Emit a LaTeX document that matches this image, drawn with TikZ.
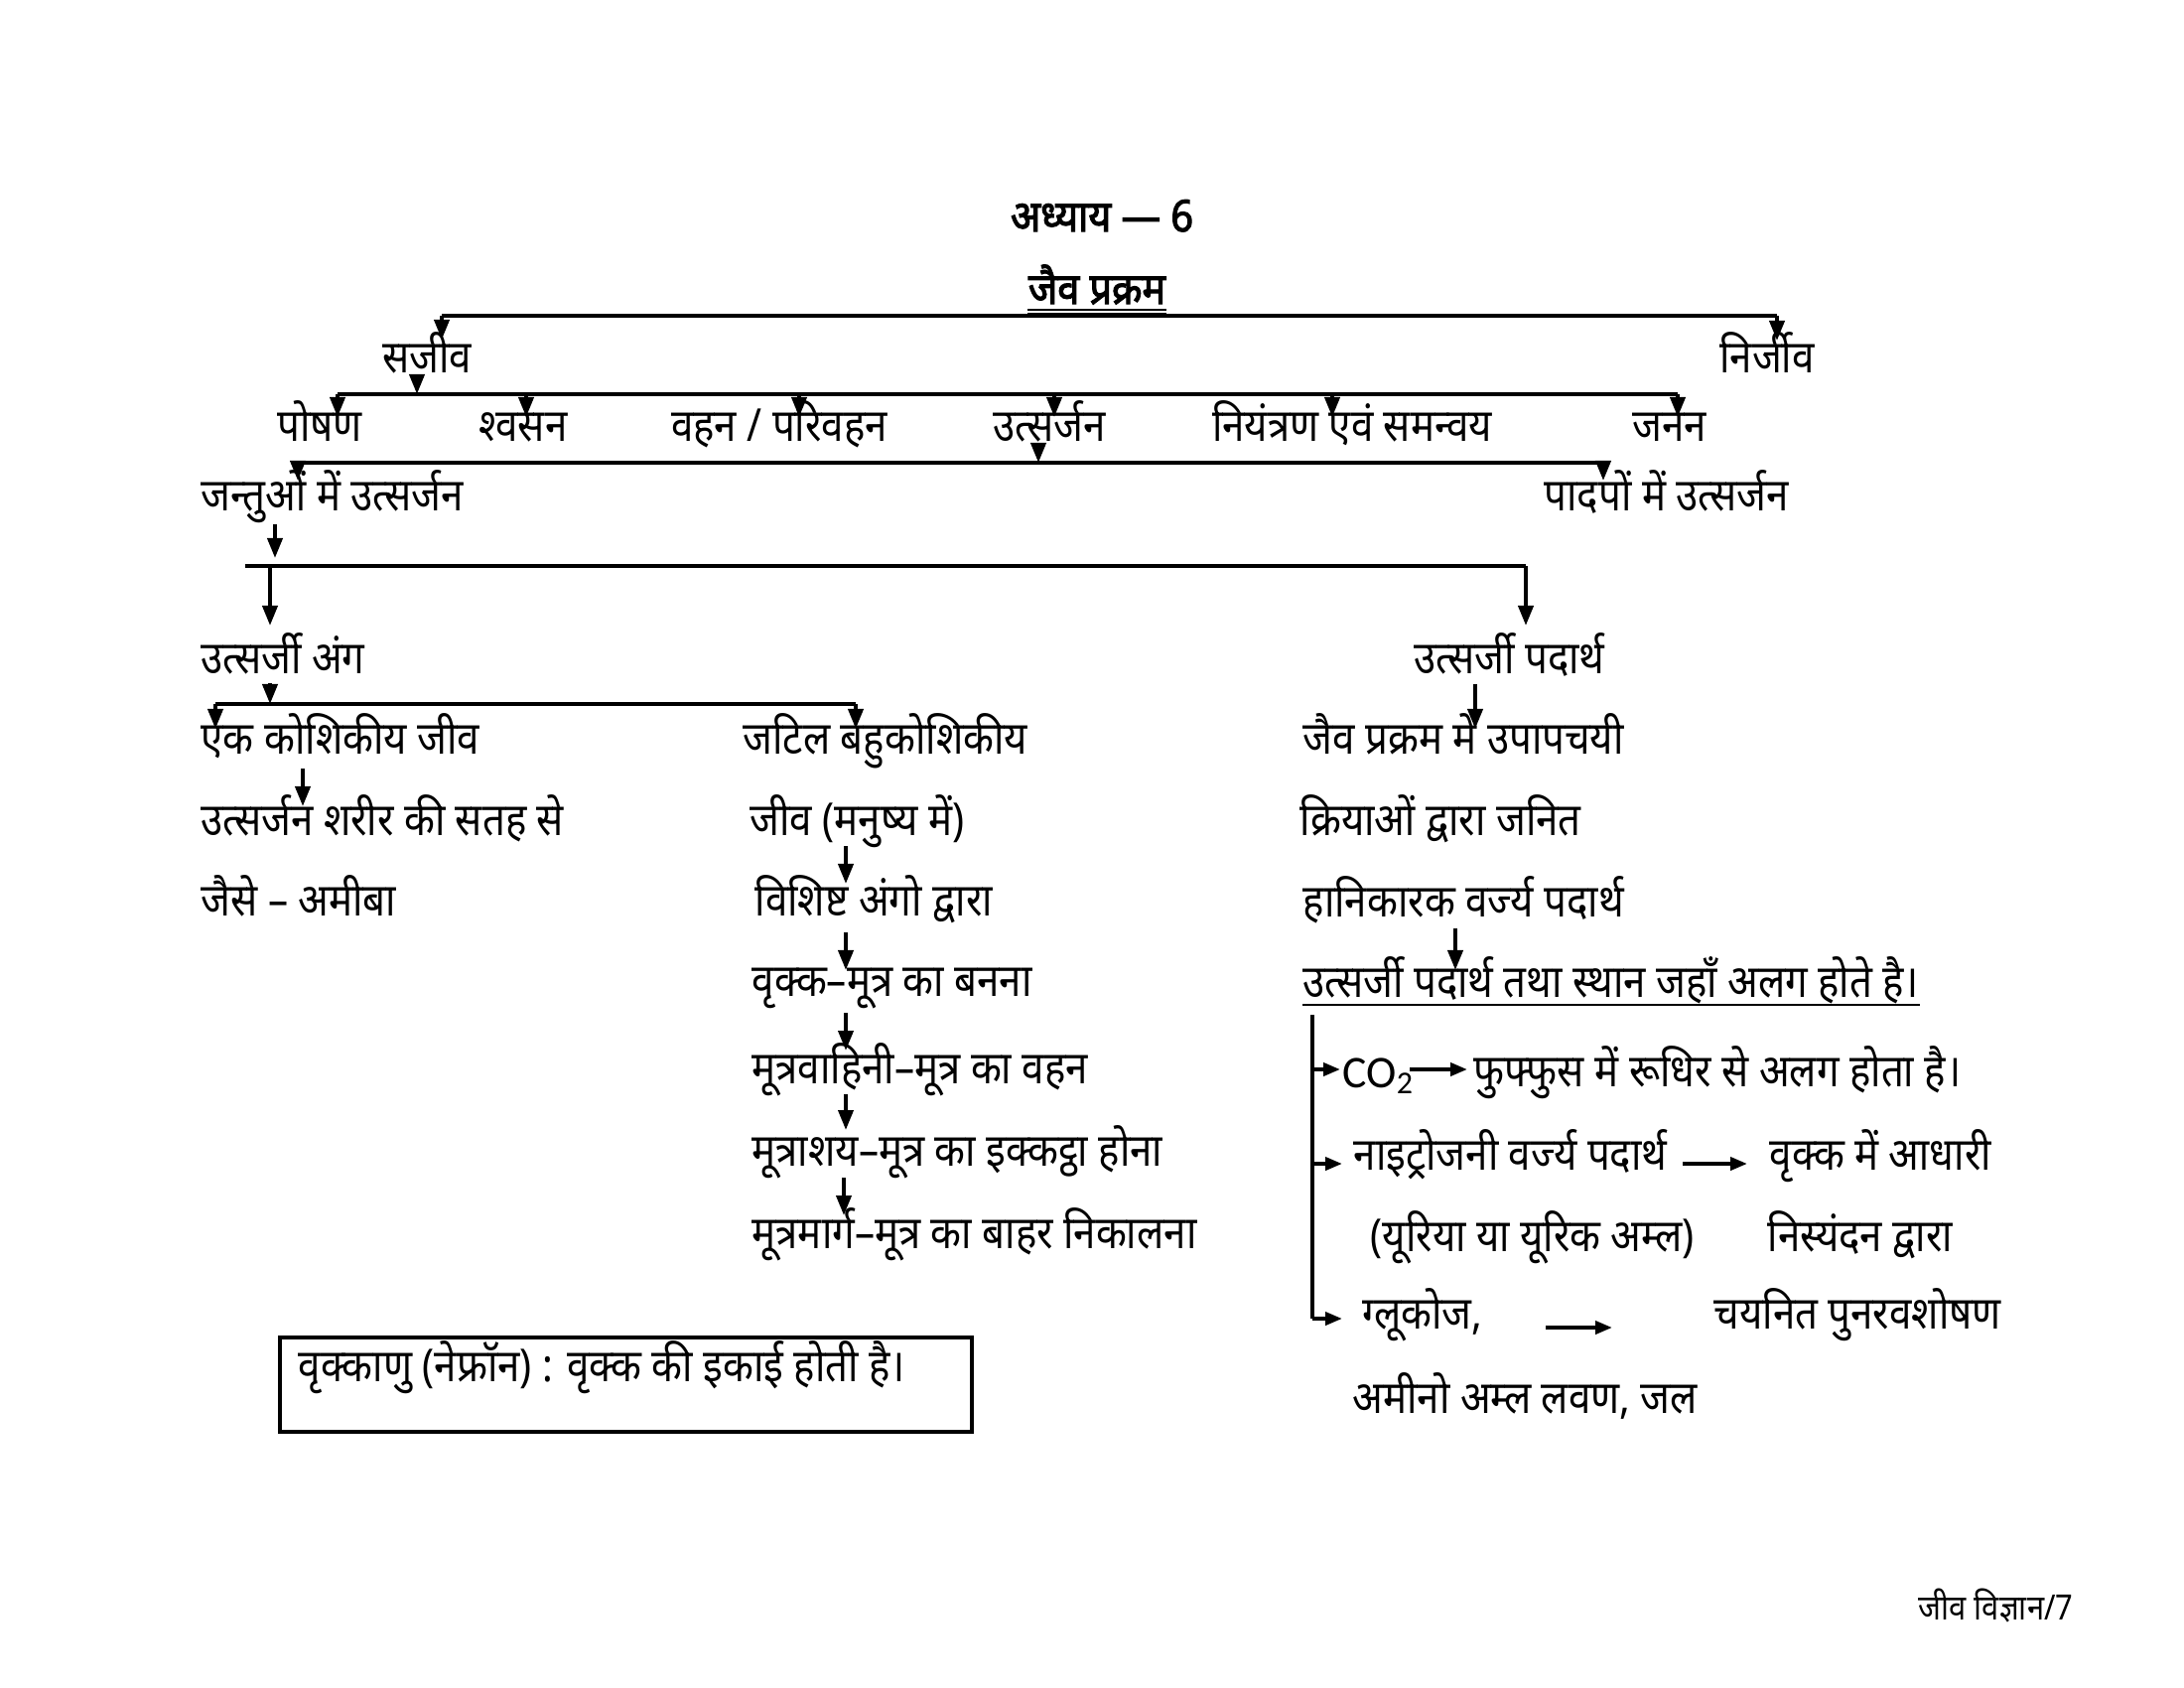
\documentclass[tikz,border=0pt]{standalone}
\usepackage{fontspec}
\setmainfont[Script=Devanagari, FakeStretch=0.88]{Noto Sans}
\newfontfamily\boldhin[Script=Devanagari, FakeBold=2.5, FakeStretch=0.9]{Noto Sans}
\newfontfamily\latinsans{Carlito}
\usetikzlibrary{arrows.meta,calc}
\newcommand{\fs}{\fontsize{13}{15}\selectfont}
\newcommand{\fsfoot}{\fontsize{10}{12}\selectfont}
\tikzset{
  txt/.style={anchor=base west, inner sep=0pt, font=\fs},
  ctxt/.style={anchor=base, inner sep=0pt, font=\fs},
  ttl/.style={anchor=base, inner sep=0pt, font=\fontsize{12.5}{15}\boldhin},
  arr/.style={-{Triangle[length=0.2cm,width=0.15cm]}, line width=1.1pt},
  sarr/.style={-{Triangle[length=0.17cm,width=0.13cm]}, line width=1.1pt},
  bar/.style={line width=1.1pt},
  uline/.style={line width=0.6pt},
}
\begin{document}
\begin{tikzpicture}[x=0.01cm,y=-0.01cm]
\useasboundingbox[fill=white] (0,0) rectangle (2200,1700);

% titles
\node[ttl] (title) at (1110,233) {अध्याय — 6};
\node[ttl] (jaiv) at (1105,306) {जैव प्रक्रम};
\draw[uline] ($(jaiv.base west)+(0,6)$) -- ($(jaiv.base east)+(0,6)$);
\draw[uline] ($(jaiv.base west)+(0,10)$) -- ($(jaiv.base east)+(0,10)$);

% level 1
\coordinate (b1L) at (445,318);
\coordinate (b1R) at (1790,318);
\coordinate (t1L) at (445,342);
\coordinate (t1R) at (1790,343);
\draw[bar] (b1L) -- (b1R);
\node[ctxt] (sajiv) at (430,375) {सजीव};
\node[ctxt] (nirjiv) at (1780,375) {निर्जीव};
\draw[arr] (b1L) -- (t1L);
\draw[arr] (b1R) -- (t1R);

% level 2
\coordinate (s2a) at (420,378);
\coordinate (b2L) at (340,397);
\coordinate (b2R) at (1690,397);
\coordinate (b2s) at (420,397);
\draw[bar] (b2L) -- (b2R);
\draw[arr] (s2a) -- (b2s);
\foreach \n/\x in {p1/340,p2/530,p3/805,p4/1062,p5/1342,p6/1690}{
  \coordinate (\n top) at (\x,397);
  \coordinate (\n tip) at (\x,420);
  \draw[arr] (\n top) -- (\n tip);
}
\node[ctxt] (poshan) at (322,444) {पोषण};
\node[ctxt] (shvasan) at (527,444) {श्वसन};
\node[ctxt] (vahan) at (785,444) {वहन / परिवहन};
\node[ctxt] (utsarjan) at (1057,444) {उत्सर्जन};
\node[ctxt] (niyantran) at (1362,444) {नियंत्रण एवं समन्वय};
\node[ctxt] (janan) at (1682,444) {जनन};

% level 3
\coordinate (u3a) at (1046,446);
\coordinate (b3L) at (300,466);
\coordinate (b3R) at (1615,466);
\coordinate (b3s) at (1046,466);
\coordinate (t3L) at (300,484);
\coordinate (t3R) at (1615,484);
\draw[bar] (b3L) -- (b3R);
\draw[arr] (u3a) -- (b3s);
\draw[arr] (b3L) -- (t3L);
\draw[arr] (b3R) -- (t3R);
\node[txt] (jantu) at (202,514) {जन्तुओं में उत्सर्जन};
\node[txt] (padap) at (1555,514) {पादपों में उत्सर्जन};

% level 4
\coordinate (j4a) at (277,528);
\coordinate (j4b) at (277,562);
\draw[arr] (j4a) -- (j4b);
\coordinate (b4L) at (247,570);
\coordinate (b4R) at (1537,570);
\coordinate (b4a) at (272,570);
\coordinate (t4L) at (272,630);
\coordinate (t4R) at (1537,630);
\draw[bar] (b4L) -- (b4R);
\draw[arr] (b4a) -- (t4L);
\draw[arr] (b4R) -- (t4R);
\node[txt] (anga) at (202,678) {उत्सर्जी अंग};
\node[txt] (padarth) at (1424,678) {उत्सर्जी पदार्थ};

% level 5 (left)
\coordinate (a5a) at (272,688);
\coordinate (a5b) at (272,709);
\draw[arr] (a5a) -- (a5b);
\coordinate (b5L) at (217,709);
\coordinate (b5R) at (862,709);
\coordinate (t5L) at (217,734);
\coordinate (t5R) at (862,734);
\draw[bar] (b5L) -- (b5R);
\draw[arr] (b5L) -- (t5L);
\draw[arr] (b5R) -- (t5R);
\node[txt] (ek) at (202,759) {एक कोशिकीय जीव};
\node[txt] (jatil) at (748,759) {जटिल बहुकोशिकीय};

\coordinate (e1) at (305,774);
\coordinate (e2) at (305,812);
\draw[arr] (e1) -- (e2);
\node[txt] (sharir) at (202,841) {उत्सर्जन शरीर की सतह से};
\node[txt] (amiba) at (202,922) {जैसे – अमीबा};

% human chain
\node[txt] (manushya) at (755,841) {जीव (मनुष्य में)};
\node[txt] (vishisht) at (760,922) {विशिष्ट अंगो द्वारा};
\node[txt] (vrikka) at (757,1003) {वृक्क–मूत्र का बनना};
\node[txt] (vahini) at (757,1091) {मूत्रवाहिनी–मूत्र का वहन};
\node[txt] (ashay) at (757,1174) {मूत्राशय–मूत्र का इक्कट्ठा होना};
\node[txt] (marg) at (757,1257) {मूत्रमार्ग–मूत्र का बाहर निकालना};
\foreach \a/\b/\x in {852/890/852,939/977/852,1020/1058/852,1102/1138/852,1186/1224/850}{
  \coordinate (h\a a) at (\x,\a);
  \coordinate (h\a b) at (\x,\b);
  \draw[arr] (h\a a) -- (h\a b);
}

% box
\node[draw, line width=1.1pt, minimum width=6.97cm, minimum height=0.95cm, inner sep=0pt, anchor=north west] (nbox) at (280,1345) {};
\node[txt] (nephron) at (300,1391) {वृक्काणु (नेफ्रॉन) : वृक्क की इकाई होती है।};

% right column
\coordinate (r1) at (1486,689);
\coordinate (r2) at (1486,734);
\draw[arr] (r1) -- (r2);
\node[txt] (upapachayi) at (1312,759) {जैव प्रक्रम में उपापचयी};
\node[txt] (kriya) at (1309,841) {क्रियाओं द्वारा जनित};
\node[txt] (hani) at (1312,923) {हानिकारक वर्ज्य पदार्थ};
\coordinate (r3) at (1466,935);
\coordinate (r4) at (1466,977);
\draw[arr] (r3) -- (r4);
\node[txt] (sthan) at (1312,1004) {उत्सर्जी पदार्थ तथा स्थान जहाँ अलग होते है।};
\draw[uline] ($(sthan.base west)+(0,8)$) -- ($(sthan.base east)+(0,8)$);

\coordinate (vtop) at (1322,1022);
\coordinate (vbot) at (1322,1328);
\draw[bar] (vtop) -- (vbot);
\coordinate (c1) at (1322,1077);
\coordinate (c1t) at (1350,1077);
\coordinate (c2) at (1322,1172);
\coordinate (c2t) at (1352,1172);
\coordinate (c3t) at (1352,1328);
\draw[sarr] (c1) -- (c1t);
\draw[sarr] (c2) -- (c2t);
\draw[sarr] (vbot) -- (c3t);

\node[anchor=base west, inner sep=0pt, font=\fontsize{13}{15}\latinsans] (co2) at (1352,1095) {CO\textsubscript{2}};
\coordinate (co2a) at (1420,1077);
\coordinate (co2b) at (1478,1077);
\draw[sarr] (co2a) -- (co2b);
\node[txt] (phuphphus) at (1484,1094) {फुफ्फुस में रूधिर से अलग होता है।};

\node[txt] (nitro) at (1363,1178) {नाइट्रोजनी वर्ज्य पदार्थ};
\coordinate (n1) at (1695,1172);
\coordinate (n2) at (1760,1172);
\draw[sarr] (n1) -- (n2);
\node[txt] (aadhari) at (1782,1178) {वृक्क में आधारी};
\node[txt] (yuriya) at (1380,1260) {(यूरिया या यूरिक अम्ल)};
\node[txt] (nisyandan) at (1780,1260) {निस्यंदन द्वारा};

\node[txt] (gluco) at (1372,1338) {ग्लूकोज,};
\coordinate (g1) at (1557,1337);
\coordinate (g2) at (1624,1337);
\draw[sarr] (g1) -- (g2);
\node[txt] (chayanit) at (1726,1338) {चयनित पुनरवशोषण};
\node[txt] (amino) at (1362,1423) {अमीनो अम्ल लवण, जल};

% footer
\node[anchor=base west, inner sep=0pt, font=\fsfoot] (footer) at (1932,1631) {जीव विज्ञान/7};
\end{tikzpicture}
\end{document}
